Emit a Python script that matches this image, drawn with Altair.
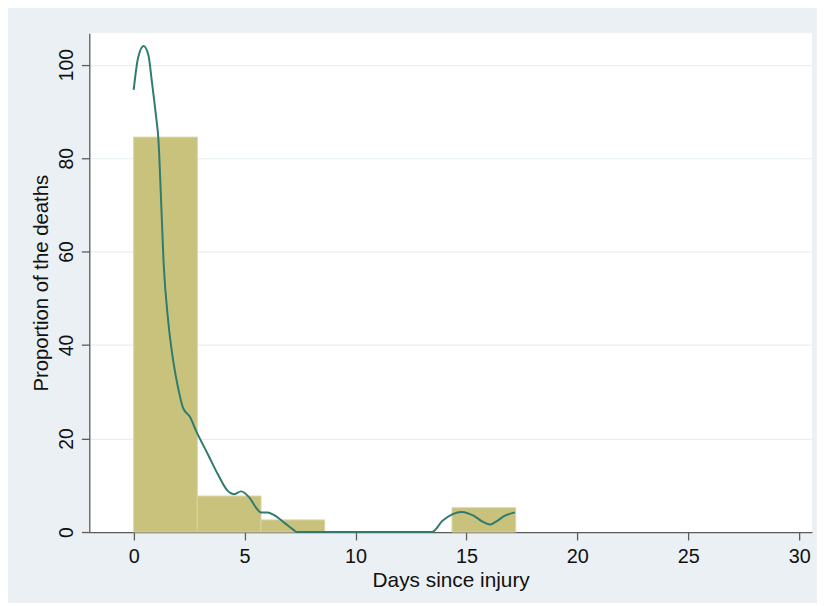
import altair as alt
import pandas as pd

# Histogram bins (days since injury) and percentage of deaths
bin_start = [0.0, 2.87, 5.74, 14.35]
bin_end = [2.87, 5.74, 8.61, 17.22]
pct = [84.5, 7.7, 2.6, 5.2]

# Kernel density curve (scaled)
kx = [0.0, 0.2, 0.45, 0.67, 0.82, 1.0, 1.12, 1.23, 1.35, 1.56, 1.79, 2.01, 2.23,
      2.53, 2.83, 3.35, 3.79, 4.24, 4.51, 4.84, 5.21, 5.55, 5.73, 6.03, 6.47,
      6.84, 7.22, 7.35, 10.0, 13.45, 13.92, 14.36, 14.8, 15.32, 15.77, 16.07,
      16.29, 16.74, 17.19]
ky = [94.6, 101.5, 104.0, 101.9, 96.4, 89.3, 83.7, 71.7, 57.6, 45.0, 36.4, 30.7,
      26.5, 24.7, 21.5, 16.6, 12.4, 8.8, 8.1, 8.7, 7.4, 5.0, 4.2, 4.2, 3.2, 1.8,
      0.4, 0.0, 0.0, 0.0, 2.4, 3.8, 4.3, 3.5, 2.1, 1.6, 2.1, 3.5, 4.2]

x_ticks = [0, 5, 10, 15, 20, 25, 30]
y_ticks = [0, 20, 40, 60, 80, 100]

bars = pd.DataFrame({"start": bin_start, "end": bin_end, "pct": pct})
kde = pd.DataFrame({"x": kx, "y": ky})

FONT = "Liberation Sans"
AXIS_COLOR = "#5b5b5b"

xscale = alt.Scale(domain=[-2.0, 30.58], nice=False, zero=False)
yscale = alt.Scale(domain=[0, 106.7], nice=False)

rects = alt.Chart(bars).mark_rect(
    color="#c9c27d", stroke="#d9d4a3", strokeWidth=1
).encode(
    x=alt.X("start:Q", scale=xscale, axis=alt.Axis(
        values=x_ticks, title="Days since injury", grid=False,
        tickSize=8, tickColor=AXIS_COLOR, tickWidth=1.3,
        domainColor=AXIS_COLOR, domainWidth=1.3,
        labelFont=FONT, labelFontSize=20, labelColor="#111", labelPadding=7,
        titleFont=FONT, titleFontSize=21, titleFontWeight="normal",
        titleColor="#111", titlePadding=3, labelFlush=False)),
    x2="end:Q",
    y=alt.Y("pct:Q", scale=yscale, axis=alt.Axis(
        values=y_ticks, title="Proportion of the deaths", grid=True,
        gridColor="#e6eff2", gridWidth=1.2,
        tickSize=8, tickColor=AXIS_COLOR, tickWidth=1.3,
        domainColor=AXIS_COLOR, domainWidth=1.3,
        labelAngle=270, labelAlign="center", labelBaseline="bottom",
        labelFont=FONT, labelFontSize=19.5, labelColor="#111", labelPadding=5,
        titleFont=FONT, titleFontSize=20.5, titleFontWeight="normal",
        titleColor="#111", titleAngle=270, titleBaseline="bottom",
        titleAlign="center", titleX=-38, labelFlush=False)),
    y2=alt.datum(0),
)

line = alt.Chart(kde).mark_line(
    color="#2f7b6e", strokeWidth=2, interpolate="monotone"
).encode(
    x=alt.X("x:Q", scale=xscale),
    y=alt.Y("y:Q", scale=yscale),
)

chart = alt.layer(rects, line).properties(
    width=729,
    height=503,
    background="#eaf0f3",
    padding={"left": 82, "top": 23, "right": 5, "bottom": 69},
    autosize=alt.AutoSizeParams(type="none"),
).configure_view(
    fill="white", stroke=None
)

chart.save("out.html", embed_options={"renderer": "svg", "actions": False})
